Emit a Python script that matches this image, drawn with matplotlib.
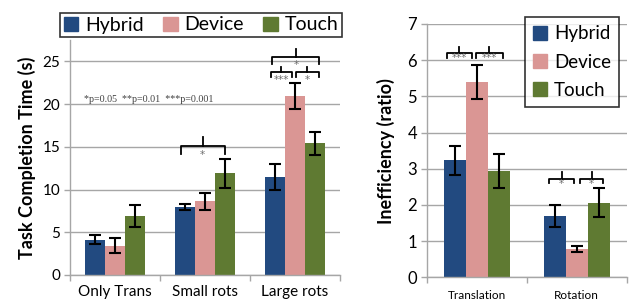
import matplotlib
matplotlib.use("Agg")
import matplotlib.pyplot as plt
import numpy as np
from matplotlib.patches import Patch

plt.rcParams['font.family'] = ['Lato', 'DejaVu Sans']

series = ["Hybrid", "Device", "Touch"]
colors = ["#224A80", "#DA9694", "#5F7A32"]

# Left chart: task completion time
cats_left = ["Only Trans", "Small rots", "Large rots"]
time_hybrid = [4.15, 7.92, 11.46]
time_device = [3.45, 8.65, 20.95]
time_touch = [6.9, 11.88, 15.4]
time_err_hybrid = [0.52, 0.33, 1.55]
time_err_device = [0.82, 1.0, 1.55]
time_err_touch = [1.3, 1.72, 1.36]

# Right chart: inefficiency
cats_right = ["Translation", "Rotation"]
ineff_hybrid = [3.23, 1.69]
ineff_device = [5.40, 0.78]
ineff_touch = [2.93, 2.06]
ineff_err_hybrid = [0.40, 0.31]
ineff_err_device = [0.47, 0.085]
ineff_err_touch = [0.47, 0.40]

fig = plt.figure(figsize=(6.32, 3.08), dpi=100)
W, H = 632, 308

def ax_at(x0, x1, ybot, ytop):
    return fig.add_axes([x0 / W, (H - ybot) / H, (x1 - x0) / W, (ybot - ytop) / H])

axL = ax_at(70, 340, 275, 39.9)
axR = ax_at(426.7, 626.7, 277.3, 24)

grid_c = "#A6A6A6"

def style(ax, ncat, ymax, ystep, ytick_fs, xtick_fs):
    ax.set_xlim(-0.5, ncat - 0.5)
    ax.set_ylim(0, ymax)
    ax.set_yticks(np.arange(0, ymax + 0.001, ystep))
    ax.yaxis.grid(True, color=grid_c, lw=1.0)
    ax.set_axisbelow(True)
    for s in ["top", "right"]:
        ax.spines[s].set_visible(False)
    for s in ["left", "bottom"]:
        ax.spines[s].set_color(grid_c)
        ax.spines[s].set_linewidth(1.0)
    ax.set_xticks(np.arange(-0.5, ncat, 1.0))
    ax.set_xticklabels([])
    ax.tick_params(axis="x", which="major", length=4, color=grid_c, width=1.0)
    ax.set_xticks(np.arange(ncat), minor=True)
    ax.tick_params(axis="x", which="minor", length=0, labelsize=xtick_fs, pad=7)
    ax.tick_params(axis="y", length=4, color=grid_c, width=1.0, labelsize=ytick_fs, pad=3)

def bars(ax, vals, errs, w, capsize):
    n = len(vals[0])
    x = np.arange(n)
    for i, (v, e) in enumerate(zip(vals, errs)):
        ax.bar(x + (i - 1) * w, v, w, color=colors[i], label=series[i], zorder=2)
        ax.errorbar(x + (i - 1) * w, v, yerr=e, fmt="none", ecolor="black",
                    elinewidth=1.5, capsize=capsize, capthick=1.5, zorder=3)

def bracket(ax, x1, x2, y, drop, rise, star, star_y):
    ax.plot([x1, x1, x2, x2], [y - drop, y, y, y - drop], color="black", lw=1.3,
            zorder=4, solid_joinstyle="round", clip_on=False)
    xm = (x1 + x2) / 2
    ax.plot([xm, xm], [y, y + rise], color="black", lw=1.3, zorder=4, clip_on=False)
    ax.text(xm, star_y, star, ha="center", va="center", fontsize=7.5,
            color="#6F6F6F", family="DejaVu Sans", zorder=5, clip_on=False)

# Left
wL = 0.222
bars(axL, [time_hybrid, time_device, time_touch],
     [time_err_hybrid, time_err_device, time_err_touch], wL, 4.3)
style(axL, 3, 27.5, 5, 11, 11)
axL.set_xticklabels(cats_left, minor=True)
axL.set_ylabel("Task Completion Time (s)", fontsize=13, fontweight="bold", labelpad=5)
axL.text(-0.34, 20.0, "*p=0.05  **p=0.01  ***p=0.001", family="Liberation Serif",
         fontsize=7.2, color="#404040", ha="left", va="bottom")
# brackets left
bracket(axL, 1 - wL - 0.05, 1 + wL, 15.09, 0.95, 1.0, "*", 14.0)
bracket(axL, 2 - wL - 0.03, 2 + wL + 0.05, 25.53, 0.9, 0.95, "*", 24.55)
bracket(axL, 2 - wL - 0.05, 2 - 0.03, 23.7, 0.55, 0.6, "***", 22.8)
bracket(axL, 2 + 0.015, 2 + wL + 0.04, 23.7, 0.55, 0.6, "*", 22.8)

legL = axL.legend(handles=[Patch(color=c, label=s) for c, s in zip(colors, series)],
                  ncol=3, loc="center", bbox_to_anchor=((67 + 335) / 2 / W, (H - 25) / H),
                  bbox_transform=fig.transFigure, fontsize=14, frameon=True,
                  fancybox=False, edgecolor="black", handlelength=0.75, handleheight=0.75,
                  handletextpad=0.35, columnspacing=1.0, borderpad=0.2)
legL.get_frame().set_linewidth(1.2)

# Right
wR = 0.22
bars(axR, [ineff_hybrid, ineff_device, ineff_touch],
     [ineff_err_hybrid, ineff_err_device, ineff_err_touch], wR, 4.3)
style(axR, 2, 7, 1, 12, 8.5)
axR.set_xticklabels(cats_right, minor=True)
axR.tick_params(axis="x", which="minor", pad=9)
axR.set_ylabel("Inefficiency (ratio)", fontsize=13, fontweight="bold", labelpad=9)
bracket(axR, 0 - wR - 0.08, 0 - 0.05, 6.19, 0.14, 0.18, "***", 6.05)
bracket(axR, 0 - 0.01, 0 + wR + 0.046, 6.19, 0.14, 0.18, "***", 6.05)
bracket(axR, 1 - wR - 0.054, 1 - 0.024, 2.71, 0.11, 0.2, "*", 2.58)
bracket(axR, 1 + 0.033, 1 + wR + 0.046, 2.71, 0.11, 0.2, "*", 2.58)

legR = axR.legend(handles=[Patch(color=c, label=s) for c, s in zip(colors, series)],
                  ncol=1, loc="center", bbox_to_anchor=((525 + 619) / 2 / W, (H - 62) / H),
                  bbox_transform=fig.transFigure, fontsize=13.5, frameon=True,
                  fancybox=False, edgecolor="black", handlelength=0.75, handleheight=0.75,
                  handletextpad=0.35, labelspacing=0.6, borderpad=0.45)
legR.get_frame().set_linewidth(1.2)

fig.savefig("out.png", dpi=100)
